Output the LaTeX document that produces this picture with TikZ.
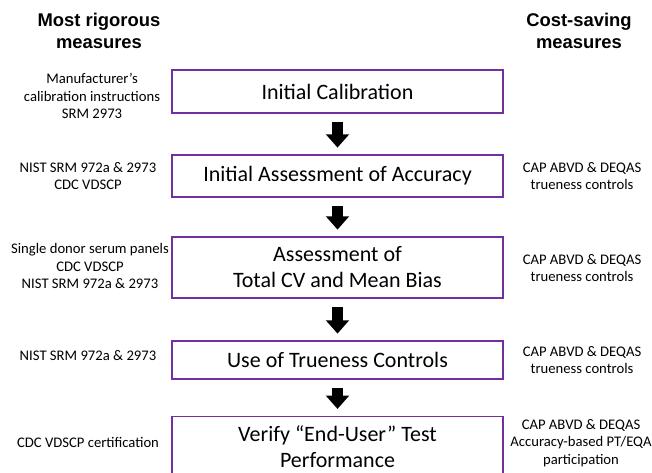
\documentclass[tikz,border=0pt]{standalone}
\usepackage{fontspec}
\setmainfont{Carlito}
\newfontfamily\headfont{Liberation Sans}
\usetikzlibrary{arrows.meta}

\definecolor{boxpurple}{HTML}{7030A0}

\begin{document}
\begin{tikzpicture}
		[x=0.75pt,y=-0.75pt,
		box/.style= {draw=boxpurple,line width=1.1pt,minimum width=248.25pt,align=center,
			font=\fontsize{16.5}{19.5}\selectfont,inner sep=0pt},
		side/.style= {align=center,font=\fontsize{11}{13}\selectfont},
		hd/.style= {align=center,font=\headfont\bfseries\fontsize{13.8}{16.5}\selectfont},
		arr/.style= {line width=8.5pt,-{Triangle[width=17pt,length=10pt]},shorten <=6.5pt,shorten >=5pt}]

		\clip (0,0) rectangle (652,473);

		% column heads
		\node[hd] (hl) at ( 99,31) {Most rigorous\\measures};
		\node[hd] (hr) at (579,31) {Cost-saving\\measures};

		% the steps
		\node[box,minimum height=32.25pt] (s1) at (337.5, 91.5) {Initial Calibration};
		\node[box,minimum height=31.5pt] (s2) at (337.5,176) {Initial Assessment of Accuracy};
		\node[box,minimum height=45.75pt] (s3) at (337.5,267.5) {Assessment of\\Total CV and Mean Bias};
		\node[box,minimum height=28.5pt] (s4) at (337.5,360) {Use of Trueness Controls};
		\node[box,minimum height=46pt] (s5) at (337.5,447) {Verify “End-User” Test\\Performance};

		\foreach \a/\b in {s1/s2,s2/s3,s3/s4,s4/s5}
			\draw[arr] (\a) -- (\b);

		% most rigorous side
		\node[side] (l1) at (92, 96) {Manufacturer’s\\calibration instructions\\SRM 2973};
		\node[side] (l2) at (88,176) {NIST SRM 972a \& 2973\\CDC VDSCP};
		\node[side] (l3) at (90,266) {Single donor serum panels\\CDC VDSCP\\NIST SRM 972a \& 2973};
		\node[side] (l4) at (88,356) {NIST SRM 972a \& 2973};
		\node[side] (l5) at (88,442) {CDC VDSCP certification};

		% cost-saving side
		\node[side] (r2) at (582,176) {CAP ABVD \& DEQAS\\trueness controls};
		\node[side] (r3) at (582,268) {CAP ABVD \& DEQAS\\trueness controls};
		\node[side] (r4) at (582,360) {CAP ABVD \& DEQAS\\trueness controls};
		\node[side] (r5) at (581,443) {CAP ABVD \& DEQAS\\Accuracy-based PT/EQA\\participation};

	\end{tikzpicture}
\end{document}
